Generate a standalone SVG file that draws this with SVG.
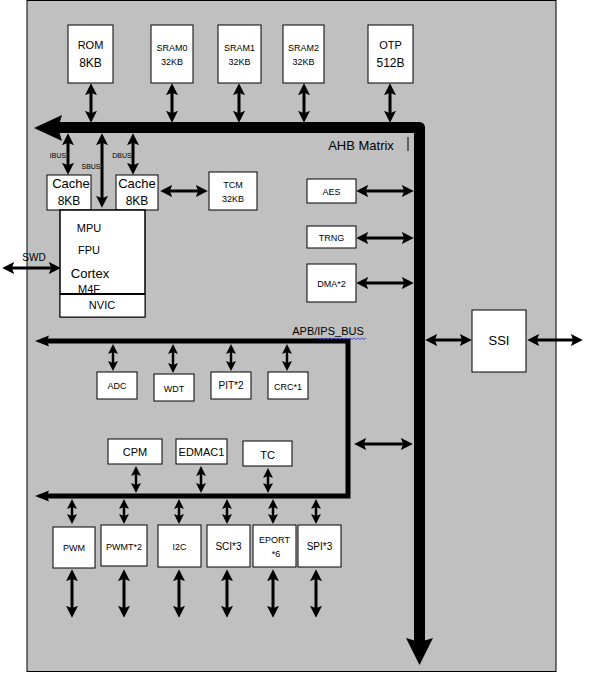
<svg xmlns="http://www.w3.org/2000/svg" width="590" height="674" viewBox="0 0 590 674">
<defs>
<style>
.box{fill:#fff;stroke:#000;stroke-width:1}
.t{font-family:"Liberation Sans Narrow","Liberation Sans",Arial,sans-serif;text-anchor:middle;fill:#000}
.w{font-family:"Liberation Sans",Arial,sans-serif;text-anchor:middle;fill:#000}
.c{stroke:#000;stroke-width:3;fill:none;marker-start:url(#a);marker-end:url(#a)}
.s{stroke:#000;stroke-width:2.5;fill:none;marker-start:url(#b);marker-end:url(#b)}
</style>
<marker id="a" viewBox="0 0 10 10" refX="6" refY="5" markerWidth="12" markerHeight="12" markerUnits="userSpaceOnUse" orient="auto-start-reverse"><path d="M0,0 L10,5 L0,10 L2,5 Z"/></marker>
<marker id="b" viewBox="0 0 10 10" refX="6" refY="5" markerWidth="10" markerHeight="10" markerUnits="userSpaceOnUse" orient="auto-start-reverse"><path d="M0,0 L10,5 L0,10 L2,5 Z"/></marker>
</defs>
<rect x="27" y="0.5" width="529" height="671" fill="#c0c0c0" stroke="#000" stroke-width="1"/>

<g id="connectors">
<path d="M58,127.5 H419.5 V642" stroke="#000" stroke-width="11" fill="none" stroke-linejoin="round"/>
<path d="M34,128 L62,115 L58,128 L62,141 Z"/>
<path d="M419.5,665 L406,638 L419.5,642 L433,638 Z"/>
<line x1="408" y1="137" x2="408" y2="151" stroke="#000" stroke-width="1"/>
<path d="M46,341 H348 V496 H46" stroke="#000" stroke-width="5" fill="none"/>
<path d="M35,341 L49,335.5 L47,341 L49,346.5 Z"/>
<path d="M35,496 L49,490.5 L47,496 L49,501.5 Z"/>
<path d="M318,338 l2,1.5 l2,-1.5 l2,1.5 l2,-1.5 l2,1.5 l2,-1.5 l2,1.5 l2,-1.5 l2,1.5 l2,-1.5 l2,1.5 l2,-1.5 l2,1.5 l2,-1.5 l2,1.5 l2,-1.5 l2,1.5 l2,-1.5 l2,1.5 l2,-1.5 l2,1.5 l2,-1.5 l2,1.5 l2,-1.5" stroke="#3333dd" stroke-width="0.8" fill="none"/>
<path class="c" d="M91,88 V118"/>
<path class="c" d="M172,88 V118"/>
<path class="c" d="M239,88 V118"/>
<path class="c" d="M304,88 V118"/>
<path class="c" d="M390,88 V118"/>
<path class="c" d="M68,138 V170"/>
<path class="c" d="M102,138 V203"/>
<path class="c" d="M133,138 V170"/>
<path class="c" d="M165,191 H203"/>
<path class="c" d="M7,268 H56"/>
<path class="c" d="M361,191 H409"/>
<path class="c" d="M361,238 H409"/>
<path class="c" d="M361,283 H409"/>
<path class="c" d="M430,340 H467"/>
<path class="c" d="M532,340 H578"/>
<path class="c" d="M359,444 H408"/>
<path class="s" d="M113,348 V367"/>
<path class="s" d="M173,348 V369"/>
<path class="s" d="M231,348 V367"/>
<path class="s" d="M287,348 V367"/>
<path class="s" d="M136,470 V489"/>
<path class="s" d="M201,470 V489"/>
<path class="s" d="M268,472 V489"/>
<path class="s" d="M72,503 V520"/>
<path class="s" d="M124,503 V520"/>
<path class="s" d="M179,503 V520"/>
<path class="s" d="M227,503 V520"/>
<path class="s" d="M273,503 V520"/>
<path class="s" d="M316,503 V520"/>
<path class="c" d="M72,574 V613"/>
<path class="c" d="M124,574 V613"/>
<path class="c" d="M179,574 V613"/>
<path class="c" d="M227,574 V613"/>
<path class="c" d="M273,574 V613"/>
<path class="c" d="M316,574 V613"/>
</g>

<g id="labels">
<text class="t" x="361" y="150" font-size="13">AHB  Matrix</text>
<text class="t" x="58" y="158" font-size="7">IBUS</text>
<text class="t" x="91" y="169" font-size="7">SBUS</text>
<text class="t" x="122" y="158" font-size="7">DBUS</text>
<text class="t" x="34" y="261" font-size="10">SWD</text>
<text class="t" x="328" y="335" font-size="11">APB/IPS_BUS</text>
</g>

<g id="rom"><rect class="box" x="68" y="25" width="45" height="58"/><text class="t" x="90.5" y="49" font-size="11">ROM</text><text class="t" x="90.5" y="67" font-size="12">8KB</text></g>
<g id="sram0"><rect class="box" x="151" y="25" width="42" height="58"/><text class="t" x="172" y="51" font-size="9">SRAM0</text><text class="t" x="172" y="65" font-size="9">32KB</text></g>
<g id="sram1"><rect class="box" x="218" y="25" width="43" height="58"/><text class="t" x="239.5" y="51" font-size="9">SRAM1</text><text class="t" x="239.5" y="65" font-size="9">32KB</text></g>
<g id="sram2"><rect class="box" x="283" y="25" width="41" height="58"/><text class="t" x="303.5" y="51" font-size="9">SRAM2</text><text class="t" x="303.5" y="65" font-size="9">32KB</text></g>
<g id="otp"><rect class="box" x="368" y="25" width="45" height="58"/><text class="t" x="390.5" y="49" font-size="11">OTP</text><text class="t" x="390.5" y="67" font-size="12">512B</text></g>

<g id="cache1"><rect class="box" x="47" y="175" width="44" height="35"/><text class="w" x="71" y="188" font-size="13">Cache</text><text class="t" x="69" y="205" font-size="12">8KB</text></g>
<g id="cache2"><rect class="box" x="116" y="175" width="42" height="35"/><text class="w" x="137" y="188" font-size="13">Cache</text><text class="t" x="137" y="205" font-size="12">8KB</text></g>
<g id="tcm"><rect class="box" x="209" y="172" width="48" height="38"/><text class="t" x="233" y="188" font-size="9">TCM</text><text class="t" x="233" y="202" font-size="9">32KB</text></g>

<g id="cpu"><rect class="box" x="60" y="210" width="85" height="107"/>
<text class="t" x="89" y="232" font-size="11">MPU</text>
<text class="t" x="89" y="254" font-size="11">FPU</text>
<text class="w" x="90" y="278" font-size="13">Cortex</text>
<text class="t" x="89" y="293" font-size="11">M4F</text>
<rect x="60" y="293" width="85" height="24" fill="#fff"/>
<line x1="60" y1="294" x2="145" y2="294" stroke="#000" stroke-width="2"/>
<rect x="60" y="210" width="85" height="107" fill="none" stroke="#000" stroke-width="1"/>
<text class="t" x="102" y="309" font-size="11">NVIC</text></g>

<g id="aes"><rect class="box" x="307" y="179" width="49" height="24"/><text class="t" x="331.5" y="195" font-size="9">AES</text></g>
<g id="trng"><rect class="box" x="307" y="226" width="49" height="22"/><text class="t" x="331.5" y="241" font-size="9">TRNG</text></g>
<g id="dma"><rect class="box" x="307" y="264" width="49" height="38"/><text class="t" x="331.5" y="287" font-size="9">DMA*2</text></g>
<g id="ssi"><rect class="box" x="472" y="310" width="54" height="62"/><text class="w" x="499" y="345" font-size="13">SSI</text></g>

<g id="adc"><rect class="box" x="97" y="372" width="40" height="27"/><text class="t" x="117" y="389" font-size="9">ADC</text></g>
<g id="wdt"><rect class="box" x="154" y="374" width="40" height="27"/><text class="t" x="174" y="392" font-size="9">WDT</text></g>
<g id="pit"><rect class="box" x="211" y="372" width="40" height="27"/><text class="t" x="231" y="389" font-size="10">PIT*2</text></g>
<g id="crc"><rect class="box" x="268" y="372" width="40" height="27"/><text class="t" x="288" y="390" font-size="9">CRC*1</text></g>

<g id="cpm"><rect class="box" x="108" y="439" width="54" height="25"/><text class="t" x="135" y="456" font-size="11">CPM</text></g>
<g id="edmac1"><rect class="box" x="176" y="439" width="51" height="25"/><text class="t" x="201.5" y="456" font-size="11">EDMAC1</text></g>
<g id="tc"><rect class="box" x="243" y="441" width="49" height="25"/><text class="t" x="267.5" y="459" font-size="11">TC</text></g>

<g id="pwm"><rect class="box" x="53" y="527" width="42" height="41"/><text class="t" x="74" y="551" font-size="9">PWM</text></g>
<g id="pwmt"><rect class="box" x="101" y="525" width="46" height="41"/><text class="t" x="124" y="550" font-size="9">PWMT*2</text></g>
<g id="i2c"><rect class="box" x="158" y="525" width="43" height="42"/><text class="t" x="179.5" y="550" font-size="9">I2C</text></g>
<g id="sci"><rect class="box" x="207" y="525" width="43" height="42"/><text class="t" x="228.5" y="550" font-size="10">SCI*3</text></g>
<g id="eport"><rect class="box" x="253" y="525" width="43" height="42"/><text class="t" x="274.5" y="543" font-size="9">EPORT</text><text class="t" x="276" y="557" font-size="9">*6</text></g>
<g id="spi"><rect class="box" x="298" y="525" width="43" height="42"/><text class="t" x="319.5" y="550" font-size="10">SPI*3</text></g>
</svg>
